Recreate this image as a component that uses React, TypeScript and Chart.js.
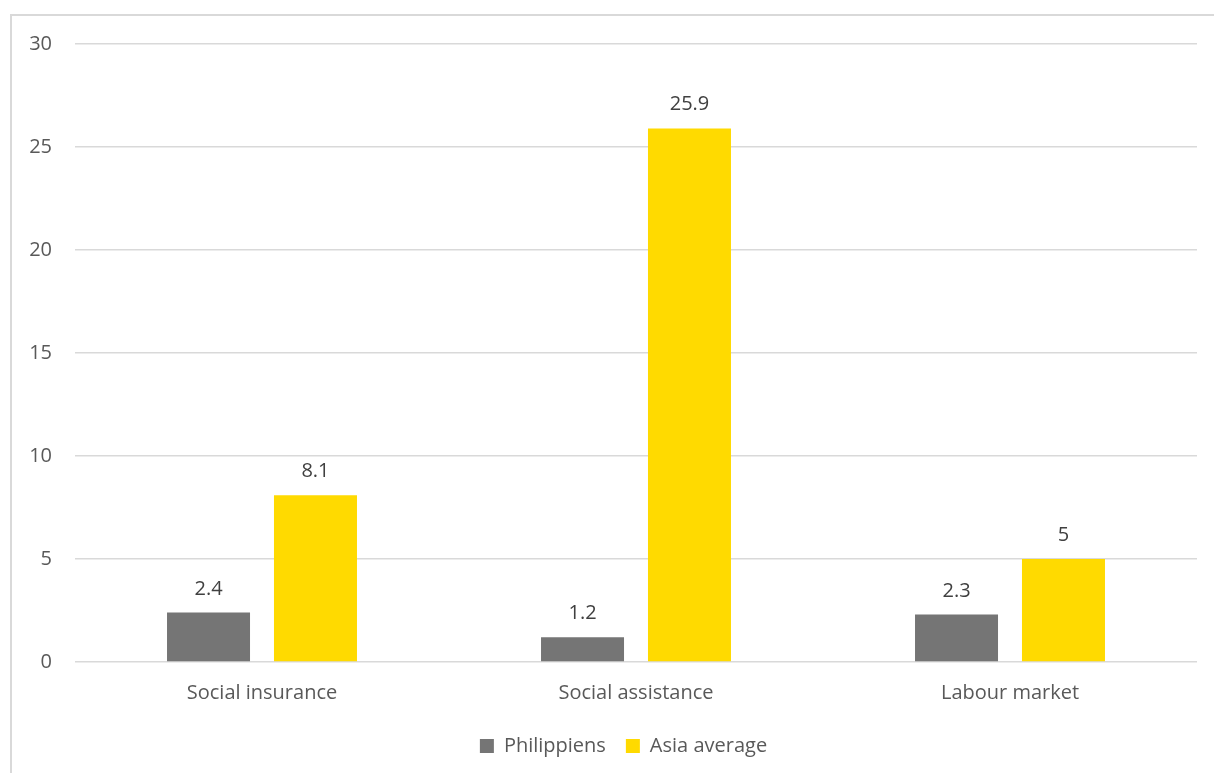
import React, { useEffect, useRef } from "react";
import { Chart, registerables } from "chart.js";

Chart.register(...registerables);

const categories = ["Social insurance", "Social assistance", "Labour market"];
const philippines = [2.4, 1.2, 2.3];
const asiaAverage = [8.1, 25.9, 5];
const seriesNames = ["Philippiens", "Asia average"];
const FONT = "'Open Sans', 'Noto Sans', sans-serif";
const FS = 20;

const valueLabels = {
  id: "valueLabels",
  afterDatasetsDraw(chart: any) {
    const ctx = chart.ctx;
    ctx.save();
    ctx.font = `${FS}px ${FONT}`;
    ctx.fillStyle = "#404040";
    ctx.textAlign = "center";
    ctx.textBaseline = "alphabetic";
    chart.data.datasets.forEach((ds: any, i: number) => {
      const meta = chart.getDatasetMeta(i);
      meta.data.forEach((bar: any, j: number) => {
        ctx.fillText(String(ds.data[j]), bar.x, bar.y - 18);
      });
    });
    ctx.restore();
  },
};

const legendShift = {
  id: "legendShift",
  afterLayout(chart: any) {
    if (chart.legend) {
      chart.legend.left += 25;
      chart.legend.right += 25;
    }
  },
};

export default function App() {
  const ref = useRef<HTMLCanvasElement>(null);
  useEffect(() => {
    if (!ref.current) return;
    const chart = new Chart(ref.current, {
      type: "bar",
      data: {
        labels: categories,
        datasets: [
          { label: seriesNames[0], data: philippines, backgroundColor: "#757575", categoryPercentage: 0.572, barPercentage: 0.776 },
          { label: seriesNames[1], data: asiaAverage, backgroundColor: "#FFDA00", categoryPercentage: 0.572, barPercentage: 0.776 },
        ],
      },
      options: {
        animation: false,
        responsive: false,
        layout: { padding: { top: 44, right: 17, bottom: 7, left: 0 } },
        plugins: {
          tooltip: { enabled: false },
          legend: {
            position: "bottom",
            labels: {
              boxWidth: 14,
              boxHeight: 14,
              color: "#595959",
              font: { family: FONT, size: FS },
              padding: 20,
            },
          },
        },
        scales: {
          x: {
            grid: { display: false, drawTicks: false },
            border: { display: false },
            ticks: { color: "#595959", font: { family: FONT, size: FS }, padding: 19 },
            afterFit: (s: any) => { s.height = 54; },
          },
          y: {
            min: 0,
            max: 30,
            ticks: { stepSize: 5, color: "#595959", font: { family: FONT, size: FS }, padding: 23 },
            grid: { color: "#d9d9d9", lineWidth: 1.5, drawTicks: false },
            border: { display: false },
            afterFit: (s: any) => { s.width = 75; },
          },
        },
      },
      plugins: [valueLabels, legendShift],
    });
    return () => chart.destroy();
  }, []);
  return (
    <div style={{ position: "absolute", left: 0, top: 0, width: 1214, height: 773, overflow: "hidden", background: "#fff" }}>
      <div style={{ position: "absolute", left: 10, top: 14, width: 1230, height: 800, border: "2px solid #d9d9d9", boxSizing: "border-box" }} />
      <canvas ref={ref} width={1214} height={773} style={{ position: "absolute", left: 0, top: 0 }} />
    </div>
  );
}
